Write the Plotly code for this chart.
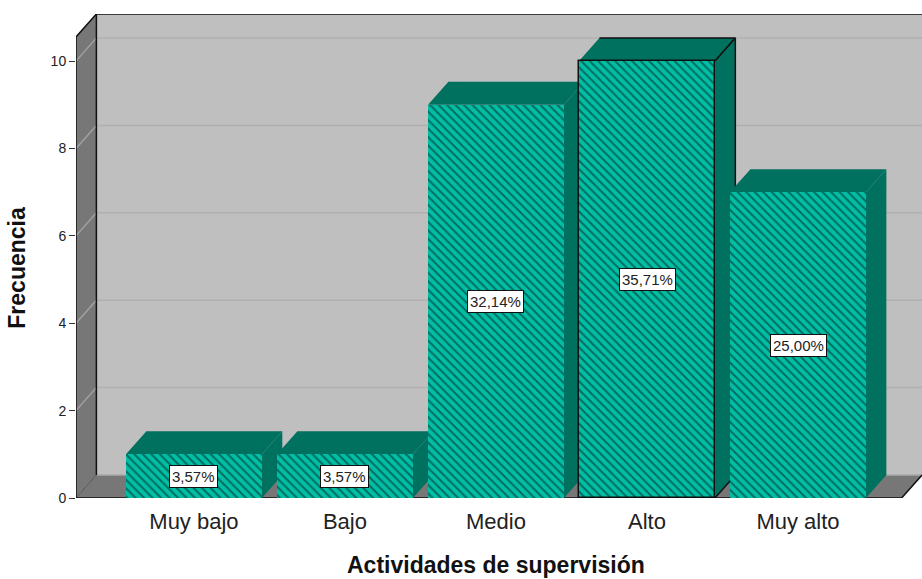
import plotly.graph_objects as go

# Survey results: frequency per level of supervision activity
categories = ["Muy bajo", "Bajo", "Medio", "Alto", "Muy alto"]
frequencies = [1, 1, 9, 10, 7]
percent_labels = ["3,57%", "3,57%", "32,14%", "35,71%", "25,00%"]
y_ticks = [0, 2, 4, 6, 8, 10]

# Axis limits and the oblique offset used for the pseudo-3D look
X_RANGE = [-0.781, 4.821]
Y_RANGE = [0, 11.076]
DEPTH_X = 0.135
DEPTH_Y = 0.526
BAR_W = 0.9

WALL = "#bfbfbf"
SIDE_WALL = "#777777"
GRID = "#b0b0b0"
GRID_SIDE = "#a0a0a0"
EDGE = "#111111"
TOP_FACE = "#00705f"
FRONT_BG = "#00bfa5"
HATCH = "#001a1a"
HIGHLIGHT = "Alto"

x0, x1 = X_RANGE
y1 = Y_RANGE[1]
positions = list(range(len(categories)))

fig = go.Figure()


def poly(xs, ys, fill, line=None, width=0):
    fig.add_trace(go.Scatter(
        x=xs, y=ys, mode="lines", fill="toself", fillcolor=fill,
        line=dict(color=line or fill, width=width if line else 0),
        hoverinfo="skip", showlegend=False,
    ))


def segment(xs, ys, color, width):
    fig.add_trace(go.Scatter(
        x=xs, y=ys, mode="lines", line=dict(color=color, width=width),
        hoverinfo="skip", showlegend=False,
    ))


# Back wall, left wall and floor
bx = x0 + DEPTH_X
poly([bx, x1, x1, bx], [DEPTH_Y, DEPTH_Y, y1, y1], WALL)
poly([x0, bx, bx, x0], [0, DEPTH_Y, y1, y1 - DEPTH_Y], SIDE_WALL)
poly([x0, x1 - DEPTH_X, x1, bx], [0, 0, DEPTH_Y, DEPTH_Y], SIDE_WALL)

# Gridlines run along the back wall and fold down the left wall
for t in y_ticks[1:]:
    segment([bx, x1], [t + DEPTH_Y, t + DEPTH_Y], GRID, 1.5)
    segment([x0, bx], [t, t + DEPTH_Y], GRID_SIDE, 1.5)
segment([bx, x1], [DEPTH_Y, DEPTH_Y], "#a8a8a8", 1.5)

# Frame of the plotting box
segment([x0, x0, bx, x1], [0, y1 - DEPTH_Y, y1, y1], EDGE, 1.5)
segment([bx, bx], [DEPTH_Y, y1], EDGE, 1.5)
segment([x0, bx], [0, DEPTH_Y], "#555555", 1)
segment([x0, x1 - DEPTH_X, x1], [0, 0, DEPTH_Y], EDGE, 1.5)

# Top and side faces of each column, left to right so nearer ones overlap
for pos, cat, val in zip(positions, categories, frequencies):
    left = pos - BAR_W / 2
    right = pos + BAR_W / 2
    outline = EDGE if cat == HIGHLIGHT else None
    width = 1.5 if cat == HIGHLIGHT else 0
    poly([left, right, right + DEPTH_X, left + DEPTH_X],
         [val, val, val + DEPTH_Y, val + DEPTH_Y], TOP_FACE, outline, width)
    poly([right, right + DEPTH_X, right + DEPTH_X, right],
         [0, DEPTH_Y, val + DEPTH_Y, val], TOP_FACE, outline, width)

# Hatched front faces sit on an overlaying pair of axes so they cover the faces behind
fig.add_trace(go.Bar(
    x=positions, y=frequencies, width=BAR_W, xaxis="x2", yaxis="y2",
    marker=dict(
        color=FRONT_BG,
        pattern=dict(shape="\\", size=6, solidity=0.34, fgcolor=HATCH, bgcolor=FRONT_BG),
        line=dict(color=[EDGE if c == HIGHLIGHT else FRONT_BG for c in categories],
                  width=[1.5 if c == HIGHLIGHT else 0 for c in categories]),
    ),
    hoverinfo="skip", showlegend=False,
))

for pos, val, text in zip(positions, frequencies, percent_labels):
    fig.add_annotation(
        x=pos, y=val / 2, xref="x2", yref="y2", text=text, showarrow=False,
        font=dict(family="Liberation Sans", size=15, color="#222222"),
        bgcolor="#ffffff", bordercolor="#111111", borderwidth=1, borderpad=2,
    )

# Axis titles placed relative to the plotting box
title_font = dict(family="Liberation Sans", size=23, color="#111111")
fig.add_annotation(
    text="<b>Actividades de supervisión</b>", xref="paper", yref="paper",
    x=0.496, y=-0.170, showarrow=False, font=title_font,
)
fig.add_annotation(
    text="<b>Frecuencia</b>", xref="paper", yref="paper", textangle=-90,
    x=-0.0874, y=0.476, showarrow=False, font=title_font,
)

axis_font = dict(family="Liberation Sans", color="#222222")
fig.update_layout(
    width=922, height=579,
    margin=dict(l=76, r=0, t=14, b=81),
    paper_bgcolor="#ffffff", plot_bgcolor="#ffffff",
    showlegend=False, bargap=0,
    xaxis=dict(
        range=X_RANGE, showgrid=False, zeroline=False, showline=False,
        tickmode="array", tickvals=positions, ticktext=categories,
        ticks="outside", ticklen=4, tickcolor="rgba(0,0,0,0)",
        tickfont=dict(size=22, **axis_font),
    ),
    yaxis=dict(
        range=Y_RANGE, showgrid=False, zeroline=False, showline=False,
        tickmode="array", tickvals=y_ticks, ticks="outside", ticklen=6,
        tickcolor="#333333", tickfont=dict(size=14, **axis_font),
    ),
    xaxis2=dict(range=X_RANGE, overlaying="x", visible=False),
    yaxis2=dict(range=Y_RANGE, overlaying="y", visible=False),
)

fig.write_html("out.html", config=dict(displayModeBar=False))
